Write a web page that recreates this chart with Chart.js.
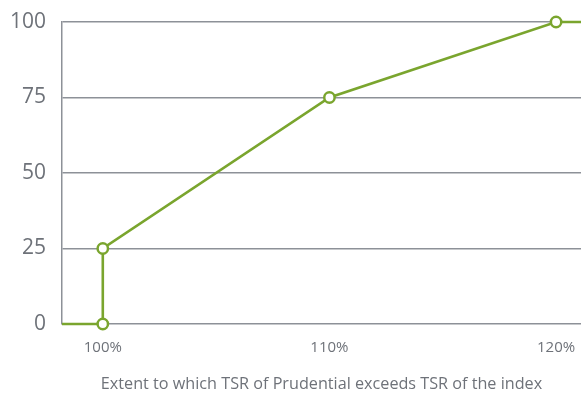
<!DOCTYPE html>
<html>
<head>
<meta charset="utf-8">
<script src="https://cdn.jsdelivr.net/npm/chart.js@4/dist/chart.umd.min.js"></script>
<style>
  html, body { margin: 0; padding: 0; background: #fff; }
  #wrap { width: 581px; height: 394px; position: relative; }
</style>
</head>
<body>
<div id="wrap"><canvas id="c"></canvas></div>
<script>
// Vesting schedule: TSR outperformance (%) vs. percentage of award vesting
const tsrPercent = [98.2, 100, 100, 110, 120, 121.1];
const vestingPercent = [0, 0, 25, 75, 100, 100];
const markerShown = [false, true, true, true, true, false];
const xTickValues = [100, 110, 120];
const yTickValues = [0, 25, 50, 75, 100];
const xAxisTitle = 'Extent to which TSR of Prudential exceeds TSR of the index';

const green = '#7aa52e';
const grey = '#6e7279';
const gridGrey = '#8d9198';

const points = tsrPercent.map((x, i) => ({ x: x, y: vestingPercent[i] }));

new Chart(document.getElementById('c'), {
  type: 'line',
  data: {
    datasets: [{
      data: points,
      borderColor: green,
      borderWidth: 2.6,
      backgroundColor: '#ffffff',
      pointBackgroundColor: '#ffffff',
      pointBorderColor: green,
      pointBorderWidth: 2.5,
      pointRadius: markerShown.map(m => m ? 5.2 : 0),
      tension: 0,
      clip: false
    }]
  },
  options: {
    responsive: true,
    maintainAspectRatio: false,
    animation: false,
    layout: { autoPadding: false, padding: { top: 22, right: 0, left: 0, bottom: 0 } },
    plugins: { legend: { display: false }, tooltip: { enabled: false } },
    scales: {
      x: {
        type: 'linear',
        min: tsrPercent[0],
        max: tsrPercent[tsrPercent.length - 1],
        afterBuildTicks: (axis) => { axis.ticks = xTickValues.map(v => ({ value: v })); },
        afterFit: (axis) => {
          axis.height = 70;
          axis.paddingLeft = 0;
          axis.paddingRight = 0;
        },
        grid: { display: false, drawTicks: false },
        border: { display: false },
        ticks: {
          color: grey,
          font: { family: 'Open Sans', size: 15 },
          padding: 15,
          maxRotation: 0,
          callback: (v) => v + '%'
        },
        title: {
          display: true,
          text: xAxisTitle,
          color: grey,
          font: { family: 'Open Sans', size: 16.2 },
          padding: { top: 13, bottom: 0 }
        }
      },
      y: {
        min: 0,
        max: 100,
        afterBuildTicks: (axis) => { axis.ticks = yTickValues.map(v => ({ value: v })); },
        afterFit: (axis) => {
          axis.width = 62;
          axis.paddingTop = 0;
          axis.paddingBottom = 0;
        },
        grid: { color: gridGrey, lineWidth: 1.5, drawTicks: false },
        border: { display: true, color: gridGrey, width: 1.5 },
        ticks: {
          color: grey,
          font: { family: 'Open Sans', size: 21 },
          padding: 16
        }
      }
    }
  }
});
</script>
</body>
</html>
